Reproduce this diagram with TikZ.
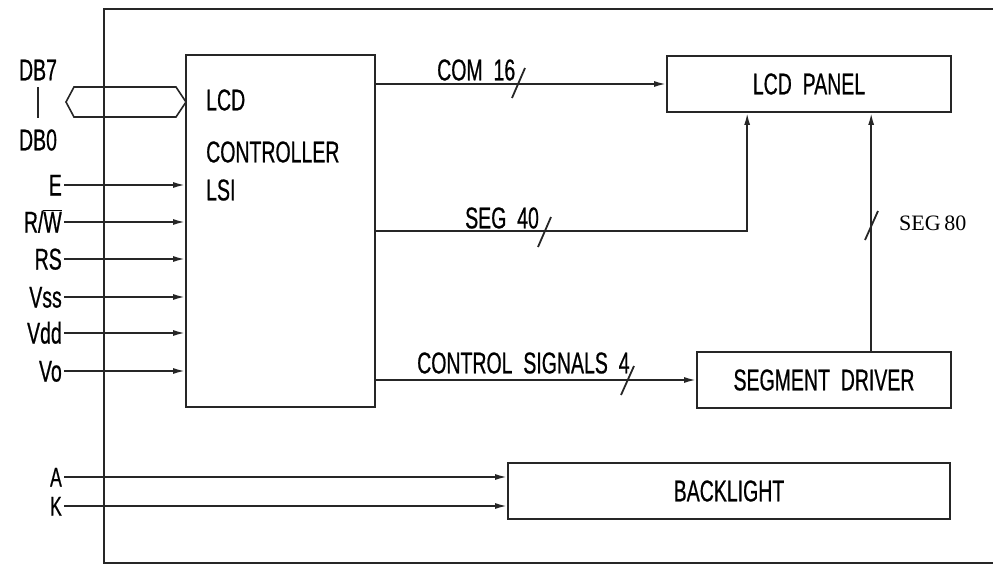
\documentclass[tikz,border=0pt]{standalone}
\usepackage{fontspec}
\setmainfont{Liberation Sans}
\newfontfamily\cad[FakeStretch=0.65,FakeBold=0.6]{Liberation Sans}
\newfontfamily\segserif{Liberation Serif}
\usetikzlibrary{arrows.meta,calc}
\begin{document}
\begin{tikzpicture}[x=1pt,y=-1pt,
  box/.style={draw=black!85, line width=1.7pt, inner sep=0pt},
  sig/.style={draw=black!85, line width=1.8pt, -{Latex[length=12pt,width=6pt]}},
  lbl/.style={font=\cad\fontsize{30}{32}\selectfont, inner sep=0pt},
  inlbl/.style={lbl, anchor=east, inner xsep=2pt, text height=21pt, text depth=0pt},
  smalllbl/.style={font=\cad\fontsize{27}{28}\selectfont, anchor=east, inner xsep=2pt, inner ysep=0pt, text height=19pt, text depth=0pt},
  slashmark/.style={draw=black!85, line width=1.8pt}
]
\useasboundingbox (0,0) rectangle (993,566);
% outer frame
\draw[line width=1.4pt, black!85] (993,9) -- (104,9) -- (104,563) -- (993,563);
% blocks
\node[box, minimum width=189pt, minimum height=352pt] (ctrl) at (280.5,231) {};
\node[box, minimum width=284pt, minimum height=56pt, lbl] (panel) at (809,84) {LCD\ \ PANEL};
\node[box, minimum width=254pt, minimum height=56pt, lbl] (segdrv) at (824,380) {SEGMENT\ \ DRIVER};
\node[box, minimum width=442pt, minimum height=56pt, lbl] (back) at (729,491) {BACKLIGHT};
% controller text
\node[lbl, anchor=west] (t1) at (206,100) {LCD};
\node[lbl, anchor=west] (t2) at (206,152) {CONTROLLER};
\node[lbl, anchor=west] (t3) at (206,190) {LSI};
% data bus
\node[lbl] (db7) at (38,70) {DB7};
\node[lbl] (db0) at (38,140) {DB0};
\draw[line width=1.4pt, black!85] (38,87) -- (38,118);
\draw[line width=1.6pt, black!85] (66,102) -- (74,87) -- (176,87) -- (186,102) -- (176,117) -- (74,117) -- cycle;
% inputs
\node[inlbl] (E) at (64,185) {E};
\node[inlbl] (RW) at (64,222) {R/$\overline{\hbox{\cad W}}$};
\node[inlbl] (RS) at (64,259) {RS};
\node[inlbl] (Vss) at (64,297) {Vss};
\node[inlbl] (Vdd) at (64,333) {Vdd};
\node[inlbl] (Vo) at (64,371) {Vo};
\foreach \n in {E,RW,RS,Vss,Vdd,Vo}{
  \draw[sig] (\n.east) -- (\n.east -| ctrl.west);
}
\node[smalllbl] (A) at (64,477) {A};
\node[smalllbl] (K) at (64,506) {K};
\draw[sig] (A.east) -- (A.east -| back.west);
\draw[sig] (K.east) -- (K.east -| back.west);
% COM 16
\draw[sig] (ctrl.east |- panel.west) -- (panel.west);
\node[lbl, anchor=west] (com) at (437,70) {COM\ \ 16};
\draw[slashmark] (512,98) -- (525,68);
% SEG 40
\coordinate (p1) at ($(panel.south west)+(81,0)$);
\draw[sig] (ctrl.east) -| (p1);
\node[lbl, anchor=west] (seg40) at (465,218) {SEG\ \ 40};
\draw[slashmark] (538,247) -- (551,217);
% SEG 80
\coordinate (p2) at ($(segdrv.north west)+(175,0)$);
\draw[sig] (p2) -- (p2 |- panel.south);
\node[font=\segserif\fontsize{22}{24}\selectfont, inner sep=0pt, anchor=west] (seg80) at (899,223) {SEG\,80};
\draw[slashmark] (865,240) -- (878,211);
% control signals
\draw[sig] (ctrl.east |- segdrv.west) -- (segdrv.west);
\node[lbl, anchor=west] (ctl) at (417,363) {CONTROL\ \ SIGNALS\ \ 4};
\draw[slashmark] (621,395) -- (634,366);
\end{tikzpicture}
\end{document}
